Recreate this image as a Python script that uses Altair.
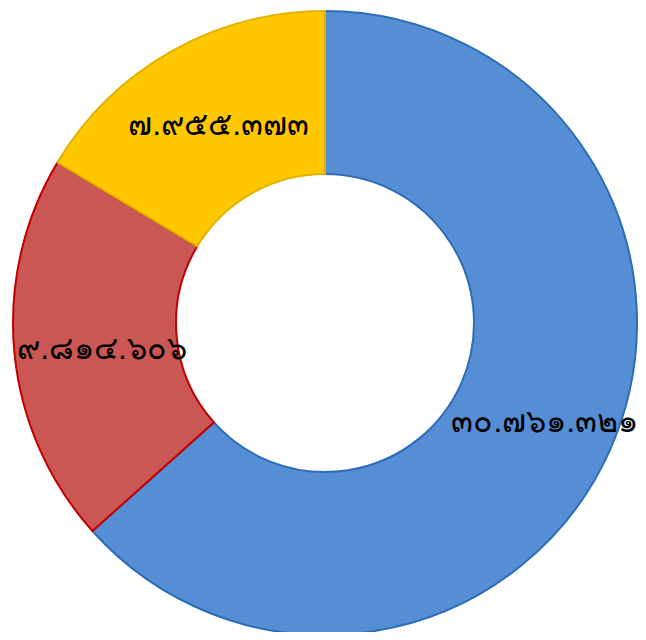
import altair as alt
import pandas as pd

labels = ["๓๐.๗๖๑.๓๒๑", "๙.๘๑๔.๖๐๖", "๗.๙๕๕.๓๗๓"]
values = [30761321, 9814606, 7955373]
order = [1, 2, 3]
fills = ["#558ED5", "#CB5755", "#FFC800"]
strokes = ["#2E6DB4", "#C00000", "#E3B100"]

df = pd.DataFrame({"label": labels, "value": values, "order": order})

base = alt.Chart(df).encode(
    theta=alt.Theta("value:Q", stack=True),
    order=alt.Order("order:Q"),
    x=alt.value(317),
    y=alt.value(315),
)

arcs = base.mark_arc(outerRadius=312, innerRadius=149, strokeWidth=2).encode(
    color=alt.Color("label:N", scale=alt.Scale(domain=labels, range=fills), legend=None),
    stroke=alt.Stroke("label:N", scale=alt.Scale(domain=labels, range=strokes), legend=None),
)

texts = base.mark_text(radius=232, fontSize=32, color="black", fontWeight="normal", dx=8, dy=4).encode(
    text="label:N"
)

chart = (arcs + texts).properties(
    width=630, height=624, padding=0, autosize=alt.AutoSizeParams(type="none")
).configure_view(stroke=None)

chart.save("out.html", embed_options={"renderer": "svg", "actions": False})
